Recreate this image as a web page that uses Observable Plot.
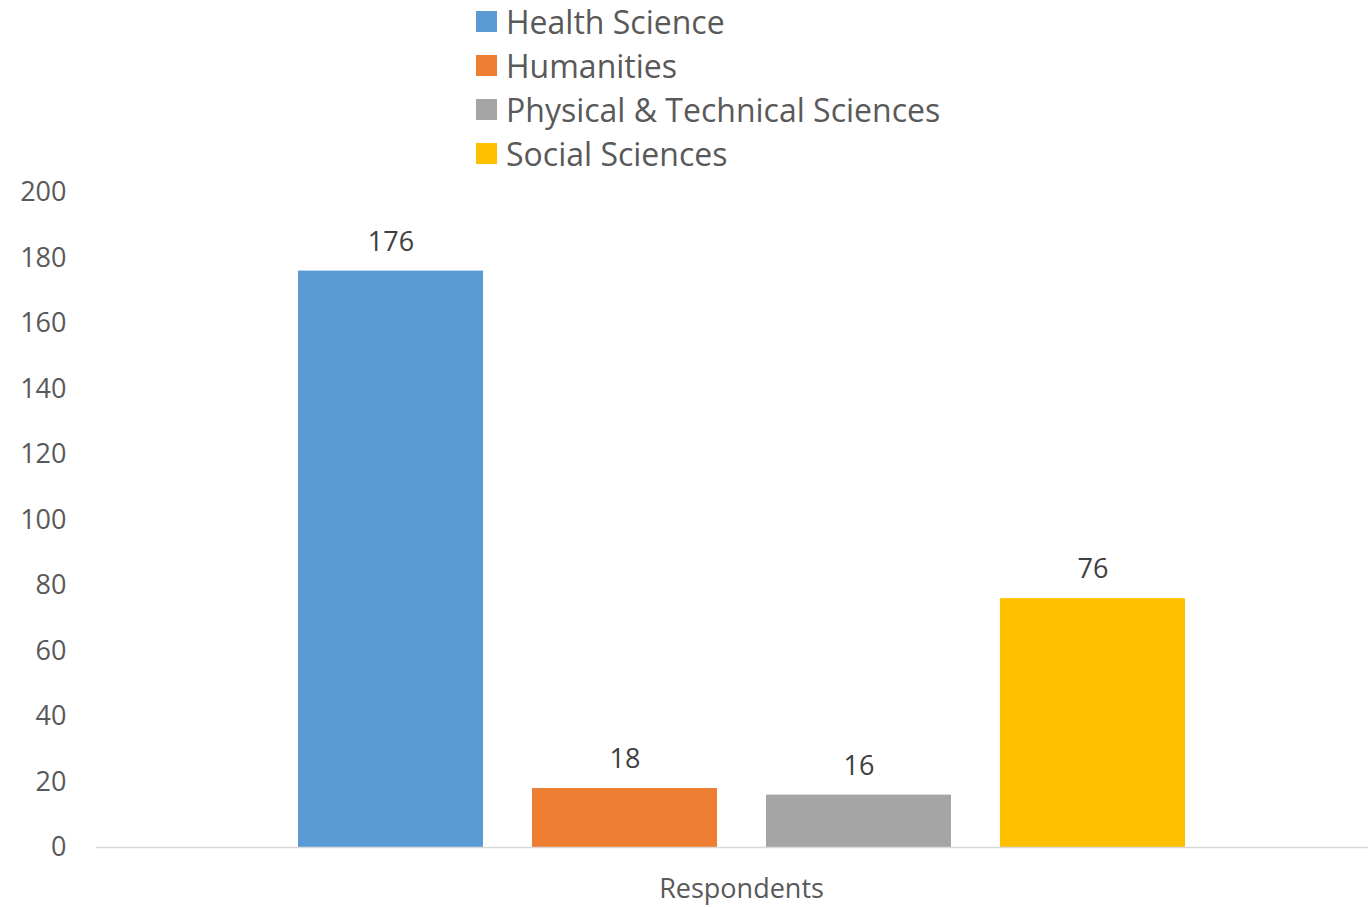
<!DOCTYPE html>
<html>
<head>
<meta charset="utf-8">
<script src="https://cdn.jsdelivr.net/npm/d3@7"></script>
<script src="https://cdn.jsdelivr.net/npm/@observablehq/plot@0.6"></script>
<style>
  html, body { margin: 0; padding: 0; background: #fff; }
  body { width: 1368px; height: 907px; position: relative; overflow: hidden; font-family: "Open Sans", sans-serif; }
  #legend { position: absolute; left: 476px; top: -1px; color: #595959; font-size: 32px; z-index: 2; }
  .item { height: 44px; display: flex; align-items: center; white-space: nowrap; }
  .sw { width: 21px; height: 21px; margin-right: 9px; flex: none; }
  #chart { position: absolute; left: 0; top: 155px; z-index: 1; }
</style>
</head>
<body>
<div id="legend"></div>
<div id="chart"></div>
<script>
const series = ["Health Science", "Humanities", "Physical & Technical Sciences", "Social Sciences"];
const values = [176, 18, 16, 76];
const colors = ["#5B9BD5", "#ED7D31", "#A5A5A5", "#FFC000"];
const category = ["Respondents"];
const yTicks = [0, 20, 40, 60, 80, 100, 120, 140, 160, 180, 200];

const data = series.map((s, i) => ({series: s, value: values[i]}));

const legend = document.getElementById("legend");
series.forEach((s, i) => {
  const row = document.createElement("div");
  row.className = "item";
  const sw = document.createElement("span");
  sw.className = "sw";
  sw.style.background = colors[i];
  const t = document.createElement("span");
  t.textContent = s;
  row.appendChild(sw);
  row.appendChild(t);
  legend.appendChild(row);
});

const p = 49 / 234;
const chart = Plot.plot({
  width: 1368,
  height: 752,
  marginTop: 37,
  marginBottom: 60,
  marginLeft: 96,
  marginRight: 0,
  style: {fontFamily: "Open Sans, sans-serif", color: "#595959", background: "transparent"},
  x: {domain: series, range: [298 - 24.5, 1185 + 24.5], paddingInner: p, paddingOuter: p / 2, axis: null},
  y: {domain: [0, 200], ticks: yTicks, label: null, tickSize: 0, tickPadding: 30},
  color: {domain: series, range: colors},
  marks: [
    Plot.barY(data, {x: "series", y: "value", fill: "series"}),
    Plot.ruleY([0], {stroke: "#D9D9D9", strokeWidth: 1.5}),
    Plot.axisY({ticks: yTicks, tickSize: 0, tickPadding: 30, fontSize: 27, fill: "#595959", label: null}),
    Plot.text(data, {x: "series", y: "value", text: d => String(d.value), dy: -29, fontSize: 27, fill: "#404040", lineAnchor: "middle"}),
    Plot.text(category, {frameAnchor: "bottom", text: d => d, dy: 42, dx: 9, fontSize: 27, fill: "#595959", lineAnchor: "middle"})
  ]
});
document.getElementById("chart").appendChild(chart);
</script>
</body>
</html>
